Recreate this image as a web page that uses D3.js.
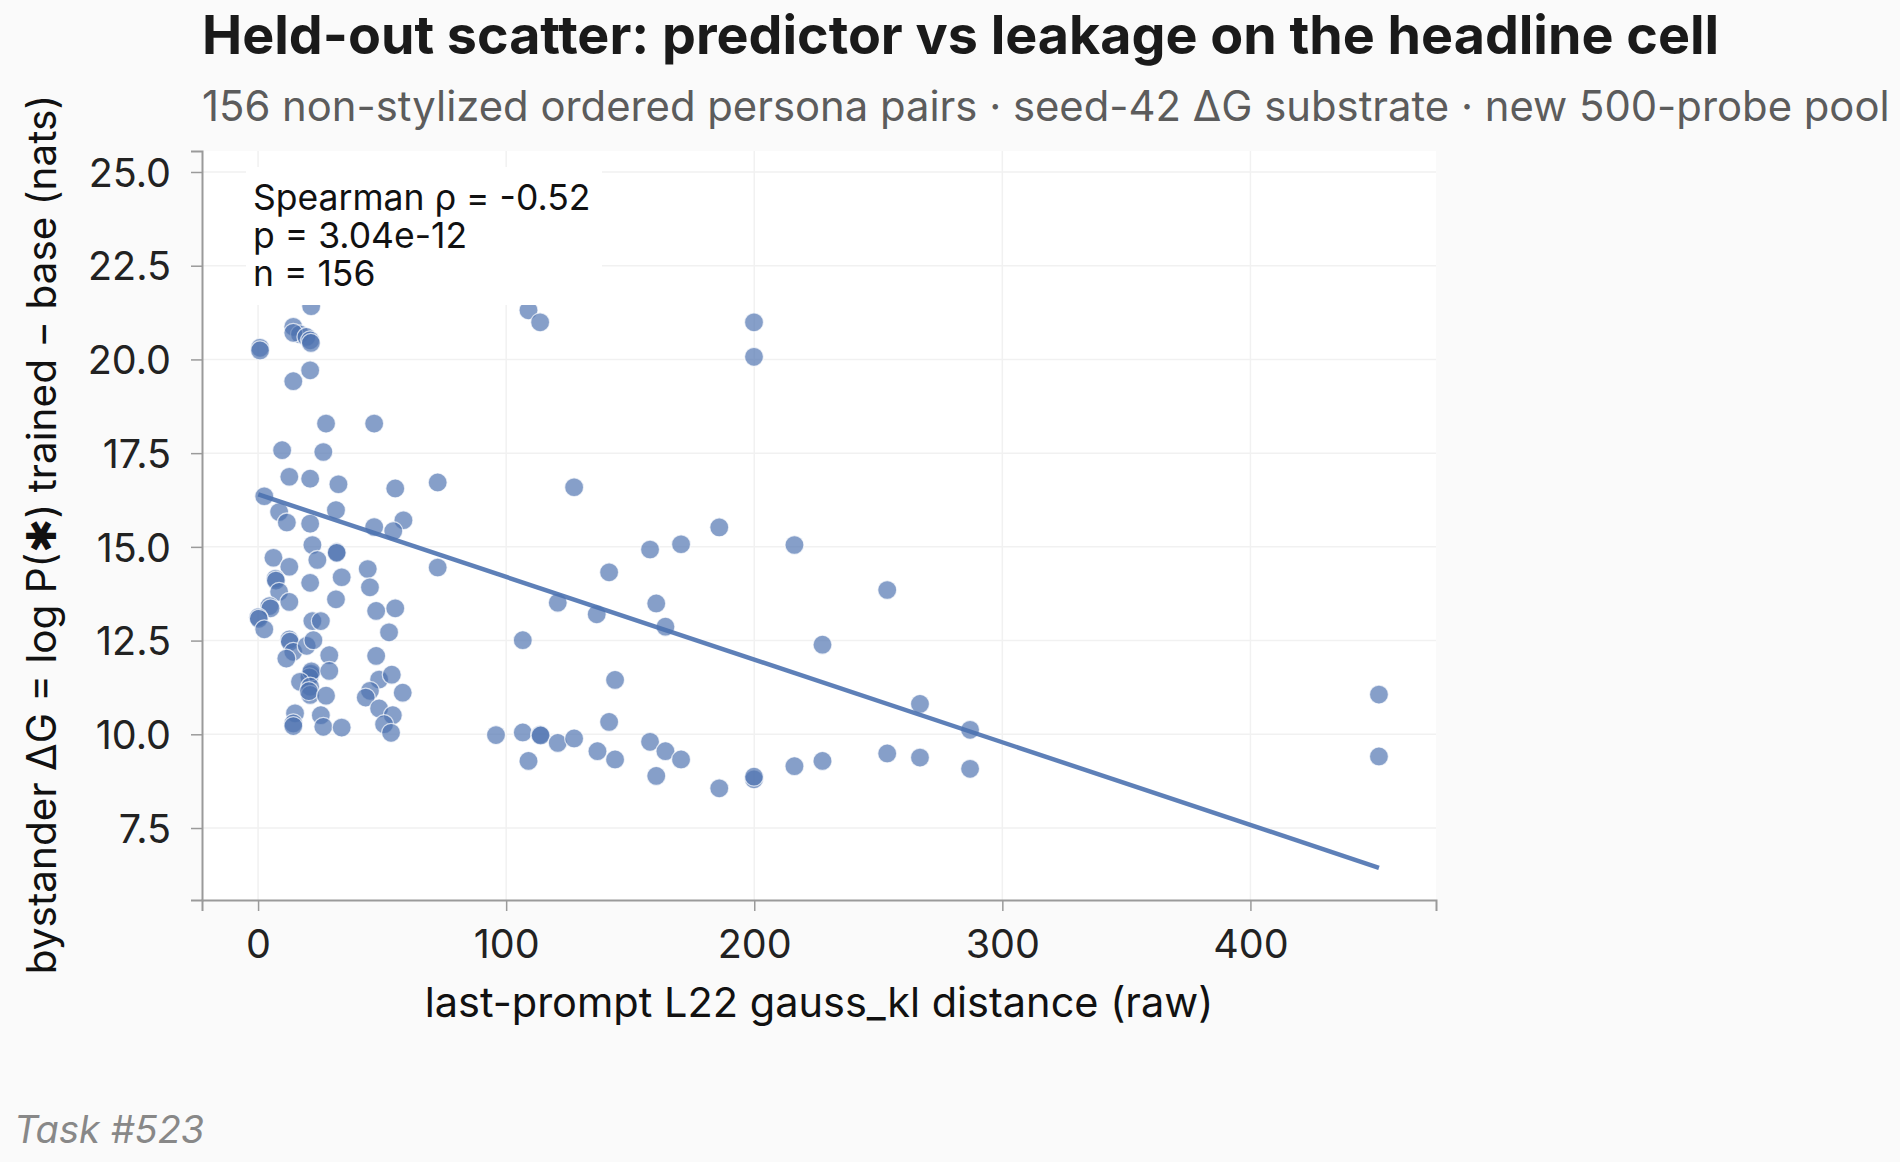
<!DOCTYPE html>
<html>
<head>
<meta charset="utf-8">
<script src="https://cdn.jsdelivr.net/npm/d3@7"></script>
<style>
  body { margin: 0; background: #fafafa; }
  text { font-family: Inter, "Noto Sans", sans-serif; }
</style>
</head>
<body>
<div id="chart"></div>
<script>

// gauss_kl distance (x) and bystander dG (y) per ordered persona pair
klDist = [21.4, 14.2, 16.9, 14.2, 19.5, 21.0, 21.3, 0.8, 0.8, 21.0, 14.2, 95.5, 109.0, 113.7, 199.9, 199.9,
  27.4, 46.8, 9.7, 26.3, 12.6, 21.0, 32.4, 55.3, 72.4, 127.4, 2.5, 8.5, 11.6, 21.0, 31.4, 46.8, 58.6, 54.5,
  158.0, 21.9, 31.7, 31.7, 6.2, 12.6, 23.9, 72.4, 44.2, 7.0, 7.2, 21.0, 33.7, 45.1, 141.5, 8.5, 12.6, 31.4,
  4.6, 5.0, 0.1, 0.3, 2.5, 47.6, 55.3, 120.8, 136.5, 160.5, 21.9, 25.3, 52.8, 12.6, 12.8, 14.2, 11.4, 19.6,
  22.3, 28.7, 47.6, 106.7, 164.2, 227.5, 185.9, 170.5, 216.2, 253.6,
  21.0, 21.3, 20.7, 21.5, 16.9, 21.0, 21.0, 20.5, 28.7, 27.4, 48.8, 53.9, 45.1, 43.4, 58.3, 143.9,
  14.9, 14.2, 14.2, 25.3, 26.3, 33.7, 48.8, 54.3, 50.8, 53.6, 95.9, 106.7, 113.7, 113.9, 120.8, 127.4,
  136.8, 143.9, 109.0, 141.5, 158.0, 164.2, 170.5, 160.5, 185.9, 199.9, 199.9, 216.2, 227.5, 253.6,
  266.8, 266.8, 287.0, 287.0, 451.8, 451.8]
deltaG = [21.42, 20.87, 20.67, 20.71, 20.60, 20.51, 20.44, 20.31, 20.24, 19.71, 19.42, 21.76, 21.31, 20.99, 20.99, 20.07,
  18.29, 18.29, 17.58, 17.53, 16.87, 16.82, 16.67, 16.56, 16.72, 16.59, 16.35, 15.93, 15.65, 15.62, 15.98, 15.53, 15.71, 15.42,
  14.93, 15.05, 14.86, 14.84, 14.71, 14.47, 14.65, 14.45, 14.41, 14.15, 14.10, 14.04, 14.19, 13.92, 14.32, 13.80, 13.53, 13.60,
  13.42, 13.36, 13.12, 13.08, 12.80, 13.29, 13.36, 13.51, 13.20, 13.49, 13.02, 13.02, 12.72, 12.53, 12.47, 12.20, 12.02, 12.36,
  12.51, 12.11, 12.09, 12.51, 12.87, 12.39, 15.52, 15.07, 15.05, 13.85,
  11.58, 11.62, 11.52, 11.68, 11.40, 11.27, 11.05, 11.15, 11.69, 11.03, 11.46, 11.59, 11.16, 10.98, 11.11, 11.45,
  10.56, 10.29, 10.22, 10.51, 10.20, 10.18, 10.69, 10.51, 10.27, 10.04, 9.98, 10.05, 9.99, 9.97, 9.77, 9.89,
  9.55, 9.33, 9.29, 10.33, 9.80, 9.55, 9.33, 8.89, 8.56, 8.80, 8.87, 9.15, 9.29, 9.49,
  9.38, 10.81, 10.12, 9.08, 11.06, 9.41]

// least squares fit as drawn (x, y at ends)
fitX = [0.1, 451.8]
fitY = [16.40, 6.44]

xTicks = [0, 100, 200, 300, 400]
yTicks = [7.5, 10.0, 12.5, 15.0, 17.5, 20.0, 22.5, 25.0]
statLines = ["Spearman \u03c1 = -0.52", "p = 3.04e-12", "n = 156"]

data = klDist.map((d, i) => ({x: d, y: deltaG[i]}))

margin = {top: 151, right: 464, bottom: 262, left: 202},
  width = 1900 - margin.left - margin.right,
  height = 1162 - margin.top - margin.bottom;

root = d3.select("#chart")
  .append("svg")
  .attr("width", 1900)
  .attr("height", 1162)

svg = root.append("g")
  .attr("transform", `translate(${margin.left}, ${margin.top})`);

// plot background
svg.append("rect")
  .attr("width", width)
  .attr("height", height)
  .style("fill", "#ffffff")

x = d3.scaleLinear()
  .domain([-22.6, 474.8])
  .range([0, width])

y = d3.scaleLinear()
  .domain([5.58, 25.56])
  .range([height, 0])

// grid
svg.append("g")
  .selectAll("line")
  .data(xTicks)
  .join("line")
    .attr("x1", d => x(d)).attr("x2", d => x(d))
    .attr("y1", 0).attr("y2", height)
    .style("stroke", "#f1f1f1")
    .style("stroke-width", 1.5)
svg.append("g")
  .selectAll("line")
  .data(yTicks)
  .join("line")
    .attr("y1", d => y(d)).attr("y2", d => y(d))
    .attr("x1", 0).attr("x2", width)
    .style("stroke", "#f1f1f1")
    .style("stroke-width", 1.5)

// axes
xAxis = svg.append("g")
  .attr("transform", `translate(0, ${height})`)
  .call(d3.axisBottom(x).tickValues(xTicks).tickSize(11).tickPadding(19).tickFormat(d3.format("d")))
yAxis = svg.append("g")
  .call(d3.axisLeft(y).tickValues(yTicks).tickSize(11).tickPadding(20).tickFormat(d3.format(".1f")))

;[xAxis, yAxis].forEach(a => {
  a.select(".domain").style("stroke", "#9a9a9a").style("stroke-width", 2)
  a.selectAll(".tick line").style("stroke", "#9a9a9a").style("stroke-width", 1.5)
  a.selectAll(".tick text")
    .style("font-family", "Inter")
    .style("font-size", "39.5px")
    .style("fill", "#222222")
})
yAxis.selectAll(".tick text").attr("dy", "0.36em")

// points
svg.append("g")
  .selectAll("circle")
  .data(data)
  .join("circle")
    .attr("cx", d => x(d.x))
    .attr("cy", d => y(d.y))
    .attr("r", 9.5)
    .style("fill", "#4c72b0")
    .style("fill-opacity", 0.68)
    .style("stroke", "#ffffff")
    .style("stroke-opacity", 0.7)
    .style("stroke-width", 1.3)

// fit line
svg.append("path")
  .datum(fitX.map((d, i) => [d, fitY[i]]))
  .attr("d", d3.line().x(d => x(d[0])).y(d => y(d[1])))
  .style("fill", "none")
  .style("stroke", "#4c72b0")
  .style("stroke-width", 4.5)
  .style("stroke-opacity", 0.9)

// stats box
svg.append("rect")
  .attr("x", 44)
  .attr("y", 16)
  .attr("width", 356)
  .attr("height", 138)
  .style("fill", "#ffffff")

svg.append("g")
  .selectAll("text")
  .data(statLines)
  .join("text")
    .attr("x", 51)
    .attr("y", (d, i) => 59 + i * 38)
    .style("font-size", "35.5px")
    .style("fill", "#111111")
    .text(d => d)

// axis labels
root.append("text")
  .attr("x", margin.left + width / 2)
  .attr("y", 1017)
  .attr("text-anchor", "middle")
  .style("font-size", "41.5px")
  .style("fill", "#111111")
  .text("last-prompt L22 gauss_kl distance (raw)")

root.append("text")
  .attr("transform", `translate(56, ${margin.top + height / 2 + 9}) rotate(-90)`)
  .attr("text-anchor", "middle")
  .style("font-size", "40.5px")
  .style("fill", "#111111")
  .text("bystander \u0394G = log P(\u2731) trained \u2212 base (nats)")

// title + subtitle
root.append("text")
  .attr("x", 202)
  .attr("y", 54)
  .style("font-size", "53.8px")
  .style("font-weight", 700)
  .style("fill", "#1a1a1a")
  .text("Held-out scatter: predictor vs leakage on the headline cell")

root.append("text")
  .attr("x", 202)
  .attr("y", 121)
  .style("font-size", "41.8px")
  .style("fill", "#5c5c5c")
  .text("156 non-stylized ordered persona pairs \u00b7 seed-42 \u0394G substrate \u00b7 new 500-probe pool")

root.append("text")
  .attr("x", 14)
  .attr("y", 1143)
  .style("font-size", "38px")
  .style("font-style", "italic")
  .style("fill", "#888888")
  .text("Task #523")

</script>
</body>
</html>
